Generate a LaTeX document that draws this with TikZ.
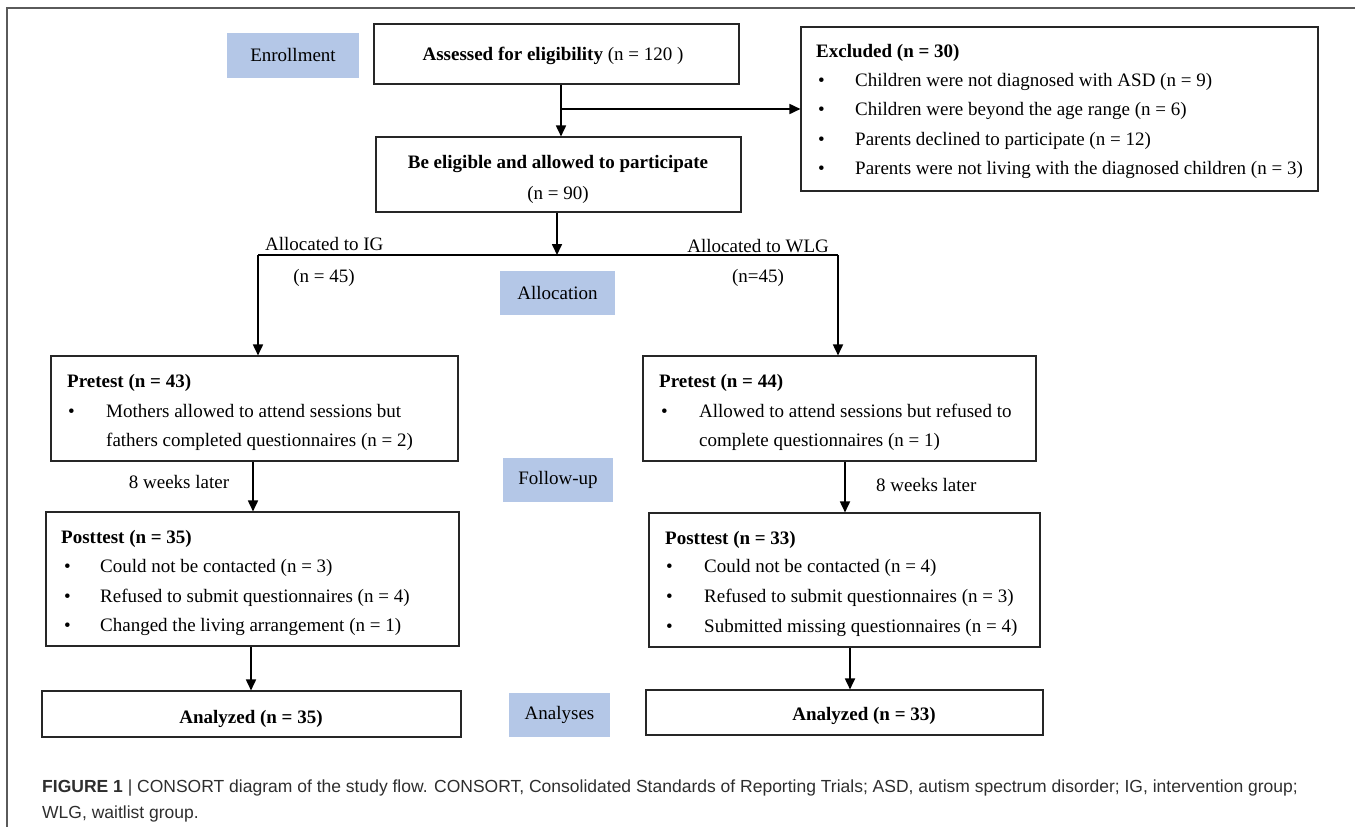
\documentclass[tikz,border=0pt]{standalone}
\usepackage{fontspec}
\setmainfont{Liberation Serif}
\newfontfamily\capfont{Liberation Sans}
\usetikzlibrary{arrows.meta}
\definecolor{phase}{HTML}{B4C7E7}
\definecolor{framegray}{HTML}{5A5A5A}
\definecolor{captext}{HTML}{2E2E2E}
\begin{document}
\begin{tikzpicture}[x=1pt,y=-1pt,
  every node/.style={font=\fontsize{19}{22}\selectfont},
  box/.style={draw=black!85, line width=1.1pt, inner sep=0pt},
  phasebox/.style={fill=phase, inner sep=0pt},
  lbl/.style={inner sep=0pt, anchor=base west},
  ctr/.style={inner sep=0pt, anchor=base},
  arr/.style={line width=1.7pt, -{Triangle[length=11pt,width=10pt]}},
  ln/.style={line width=1.7pt}]
\useasboundingbox (0,0) rectangle (1355,827);
% frame
\draw[framegray, line width=1.6pt] (7,827) -- (7,8) -- (1355,8);

% boxes
\node[phasebox, minimum width=132pt, minimum height=45pt] (enr) at (293,55.5) {Enrollment};
\node[box, minimum width=365pt, minimum height=60pt] (assess) at (556.5,54) {};
\node[box, minimum width=365pt, minimum height=75pt] (elig) at (558.5,174.5) {};
\node[box, minimum width=517pt, minimum height=164pt] (excl) at (1059.5,109) {};
\node[phasebox, minimum width=115pt, minimum height=44pt] (alloc) at (557.5,293) {Allocation};
\node[box, minimum width=407pt, minimum height=105pt] (preL) at (254.5,408.5) {};
\node[box, minimum width=393pt, minimum height=105pt] (preR) at (839.5,408.5) {};
\node[phasebox, minimum width=110pt, minimum height=44pt] (follow) at (558,480) {Follow-up};
\node[box, minimum width=413pt, minimum height=134pt] (postL) at (252.5,579) {};
\node[box, minimum width=391pt, minimum height=134pt] (postR) at (844.5,580) {};
\node[box, minimum width=419pt, minimum height=46pt] (anaL) at (251.5,714) {};
\node[box, minimum width=397pt, minimum height=45pt] (anaR) at (844.5,712.5) {};
\node[phasebox, minimum width=101pt, minimum height=44pt] (analyses) at (559.5,715) {Analyses};

% texts
\node[ctr] (tassess) at (553,60) {\textbf{Assessed for eligibility} (n = 120 )};
\node[ctr] (telig1) at (558,168) {\textbf{Be eligible and allowed to participate}};
\node[ctr] (telig2) at (558,199) {(n = 90)};

\node[lbl] (texcl) at (816,57) {\textbf{Excluded (n = 30)}};
\foreach \y/\t [count=\i] in {80/Children were not diagnosed with ASD (n = 9),
    109/Children were beyond the age range (n = 6),
    139/Parents declined to participate (n = 12),
    168/Parents were not living with the diagnosed children (n = 3)}{
  \node[lbl] (exb\i) at (818,\y+6.5) {•};
  \node[lbl] (ext\i) at (855,\y+6.5) {\t};
}

\node[lbl] (tallocIG) at (265,250) {Allocated to IG};
\node[ctr] (tnIG) at (324,282) {(n = 45)};
\node[lbl, anchor=base east] (tallocWLG) at (829,252) {Allocated to WLG};
\node[ctr] (tnWLG) at (758,282) {(n=45)};

\node[lbl] (tpreL) at (67,387) {\textbf{Pretest (n = 43)}};
\node[lbl] (bpreL) at (68,417) {•};
\node[lbl] (tpreL1) at (106,417) {Mothers allowed to attend sessions but};
\node[lbl] (tpreL2) at (106,446) {fathers completed questionnaires (n = 2)};

\node[lbl] (tpreR) at (659,387) {\textbf{Pretest (n = 44)}};
\node[lbl] (bpreR) at (661,417) {•};
\node[lbl] (tpreR1) at (699,417) {Allowed to attend sessions but refused to};
\node[lbl] (tpreR2) at (699,446) {complete questionnaires (n = 1)};

\node[ctr] (wkL) at (179,488) {8 weeks later};
\node[lbl] (wkR) at (876,491) {8 weeks later};

\node[lbl] (tpostL) at (61,543) {\textbf{Posttest (n = 35)}};
\foreach \y/\t [count=\i] in {566/Could not be contacted (n = 3),
    596/Refused to submit questionnaires (n = 4),
    625/Changed the living arrangement (n = 1)}{
  \node[lbl] (pLb\i) at (64,\y+6.5) {•};
  \node[lbl] (pLt\i) at (100,\y+6.5) {\t};
}
\node[lbl] (tpostR) at (665,544) {\textbf{Posttest (n = 33)}};
\foreach \y/\t [count=\i] in {566/Could not be contacted (n = 4),
    596/Refused to submit questionnaires (n = 3),
    626/Submitted missing questionnaires (n = 4)}{
  \node[lbl] (pRb\i) at (666,\y+6.5) {•};
  \node[lbl] (pRt\i) at (704,\y+6.5) {\t};
}

\node[ctr] (tanaL) at (251,723.5) {\textbf{Analyzed (n = 35)}};
\node[ctr] (tanaR) at (864,720.5) {\textbf{Analyzed (n = 33)}};

% connectors
\draw[arr] ([xshift=4.5pt]assess.south) -- ([xshift=4.5pt]assess.south |- elig.north);
\coordinate (br) at (561,109);
\draw[arr] (br) -- (br -| excl.west);
\coordinate (split) at (557,255);
\draw[arr] (elig.south -| split) -- (split);
\coordinate (lt) at (258,255);
\coordinate (rt) at (838,255);
\draw[ln] (lt) -- (rt);
\draw[arr] (lt) -- (lt |- preL.north);
\draw[arr] (rt) -- (rt |- preR.north);
\draw[arr] ([xshift=-1.5pt]preL.south) -- ([xshift=-1.5pt]preL.south |- postL.north);
\draw[arr] ([xshift=5.5pt]preR.south) -- ([xshift=5.5pt]preR.south |- postR.north);
\draw[arr] ([xshift=-1.5pt]postL.south) -- ([xshift=-1.5pt]postL.south |- anaL.north);
\draw[arr] ([xshift=5.5pt]postR.south) -- ([xshift=5.5pt]postR.south |- anaR.north);

% caption
\node[lbl, font=\capfont\fontsize{17.5}{21}\selectfont, text=captext] (cap1) at (42,792)
  {\textbf{FIGURE 1} | CONSORT diagram of the study flow. CONSORT, Consolidated Standards of Reporting Trials; ASD, autism spectrum disorder; IG, intervention group;};
\node[lbl, font=\capfont\fontsize{17.5}{21}\selectfont, text=captext] (cap2) at (42,818)
  {WLG, waitlist group.};
\end{tikzpicture}
\end{document}
